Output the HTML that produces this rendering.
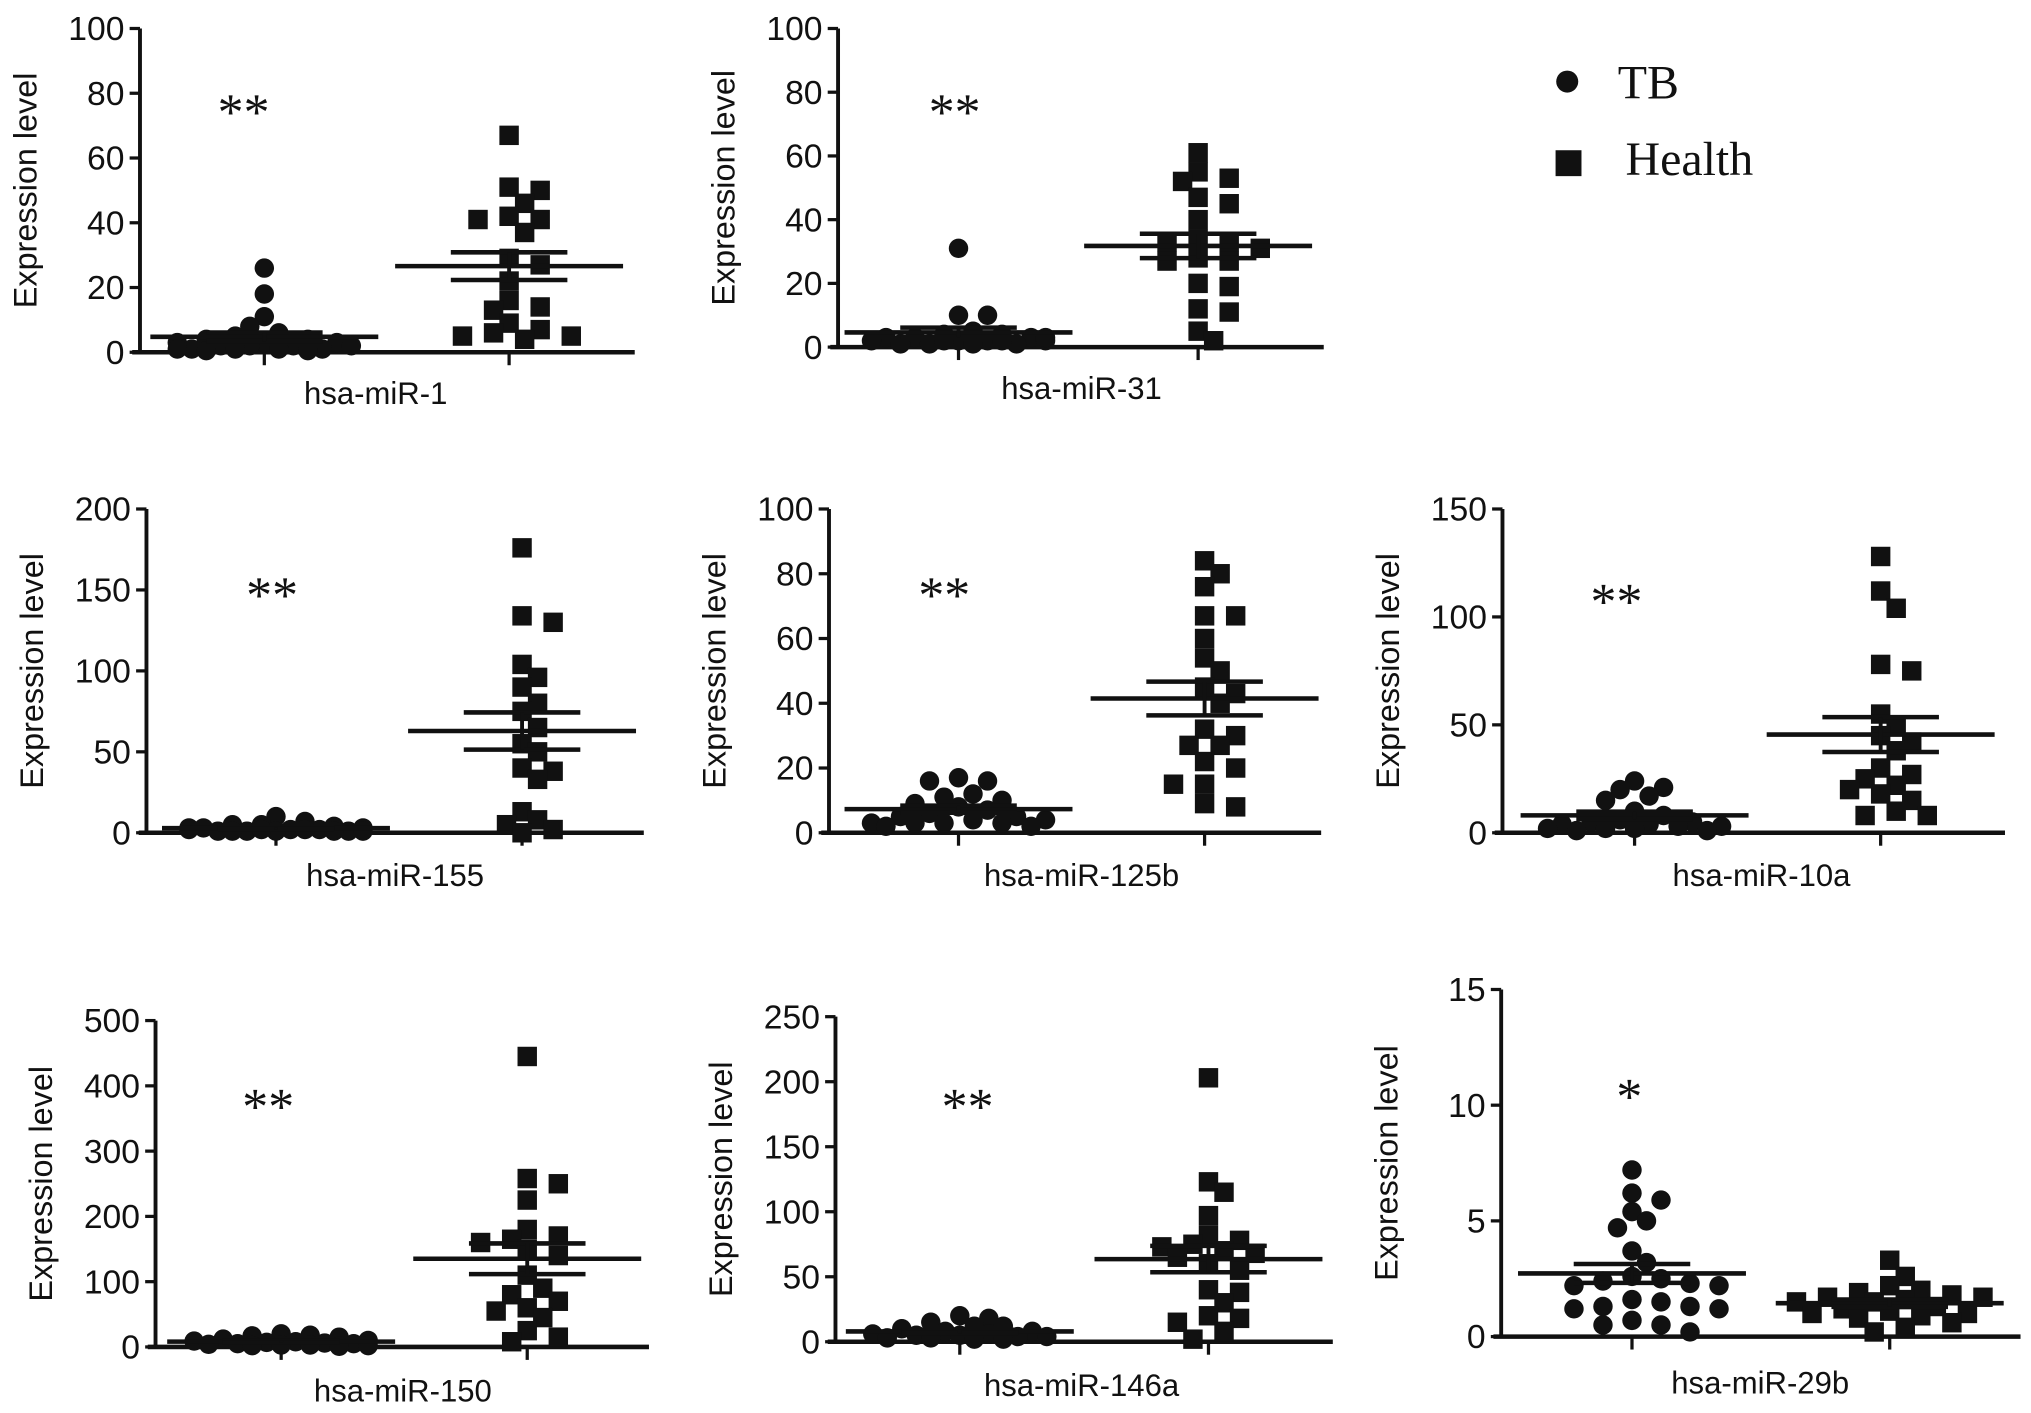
<!DOCTYPE html>
<html><head><meta charset="utf-8"><style>
html,body{margin:0;padding:0;background:#fff;}
svg{display:block;}
</style></head><body>
<svg id="fig" width="2031" height="1413" viewBox="0 0 1568 1091" xmlns="http://www.w3.org/2000/svg" font-family="Liberation Sans, Arial, sans-serif"></svg>
<script>
// ---- data per panel ----
const panelNames = ["hsa-miR-1","hsa-miR-31","hsa-miR-155","hsa-miR-125b","hsa-miR-10a","hsa-miR-150","hsa-miR-146a","hsa-miR-29b"];
const yMaxes = [100,100,200,100,150,500,250,15];
const tickSteps = [20,20,50,20,50,100,50,5];
const sigMarks = ["**","**","**","**","**","**","**","*"];
const tbMiR1 = [26,18,11,6,8,5,4,4,3,3,3,2,2,2,2,1,1,1,1,0.5,0.5,1];
const healthMiR1 = [67,51,50,46,42,41,41,37,29,27,22,16,14,13,9,7,6,5,5,4];
const tbMiR31 = [31,10,10,5,4,4,3,3,3,2,2,2,2,1,1,1,1,2,3,2];
const healthMiR31 = [61,55,53,52,47,45,40,34,33,33,31,28,27,27,20,19,12,11,5,2];
const tbMiR155 = [10,7,5,5,4,3,3,2,2,2,1,1,1,1,2,3,1,2,1,1];
const healthMiR155 = [176,134,130,104,96,90,80,75,65,55,50,40,38,33,13,8,5,2,0];
const tbMiR125b = [17,16,16,12,11,10,9,8,7,6,5,5,4,4,3,3,3,3,2,2];
const healthMiR125b = [84,80,76,67,67,60,54,50,45,43,40,32,30,27,27,22,20,15,15,9,8];
const tbMiR10a = [24,21,20,17,15,10,8,6,5,5,4,4,3,3,2,2,2,1,1];
const healthMiR10a = [128,112,104,78,75,55,50,45,42,38,30,27,25,22,20,18,15,10,8,8];
const tbMiR150 = [20,18,17,15,12,10,9,8,7,6,5,5,4,3,3,2,2,1];
const healthMiR150 = [445,258,250,225,180,170,165,160,150,140,110,90,80,70,60,55,45,25,15,8];
const tbMiR146a = [20,18,15,12,12,10,8,8,6,6,5,5,4,4,3,3,2,2];
const healthMiR146a = [203,123,115,97,82,78,75,73,70,68,65,60,55,40,38,30,20,18,15,8,2];
const tbMiR29b = [7.2,6.2,5.9,5.4,5.0,4.7,3.7,3.2,2.6,2.5,2.4,2.3,2.2,2.2,1.6,1.5,1.3,1.3,1.2,1.2,0.7,0.5,0.5,0.2];
const healthMiR29b = [3.3,2.6,2.2,2.0,1.9,1.8,1.7,1.7,1.6,1.5,1.5,1.3,1.2,1.1,1.0,1.0,0.9,0.8,0.6,0.4,0.2];
const tbSeries = [tbMiR1,tbMiR31,tbMiR155,tbMiR125b,tbMiR10a,tbMiR150,tbMiR146a,tbMiR29b];
const healthSeries = [healthMiR1,healthMiR31,healthMiR155,healthMiR125b,healthMiR10a,healthMiR150,healthMiR146a,healthMiR29b];

// ---- layout (not data) ----
const layout = [
 {ax:108,top:22,bot:272,g1:204,g2:393,end:490,lx:290,ly:312,sx:188,sy:100},
 {ax:647,top:22,bot:268,g1:740,g2:925,end:1022,lx:835,ly:308,sx:737,sy:100},
 {ax:113,top:393,bot:643,g1:213,g2:403,end:497,lx:305,ly:684,sx:210,sy:473},
 {ax:640,top:393,bot:643,g1:740,g2:930,end:1020,lx:835,ly:684,sx:729,sy:473},
 {ax:1160,top:393,bot:643,g1:1262,g2:1452,end:1548,lx:1360,ly:684,sx:1248,sy:478},
 {ax:120,top:788,bot:1040,g1:217,g2:407,end:501,lx:311,ly:1082,sx:207,sy:868},
 {ax:645,top:785,bot:1036,g1:741,g2:933,end:1029,lx:835,ly:1078,sx:747,sy:868},
 {ax:1159,top:764,bot:1032,g1:1260,g2:1459,end:1560,lx:1359,ly:1076,sx:1258,sy:860}
];
const NS="http://www.w3.org/2000/svg";
const fig=document.getElementById('fig');
function mk(tag,attrs,parent){const e=document.createElementNS(NS,tag);for(const k in attrs)e.setAttribute(k,attrs[k]);(parent||fig).appendChild(e);return e;}
function stats(a){const m=a.reduce((s,v)=>s+v,0)/a.length;const sd=Math.sqrt(a.reduce((s,v)=>s+(v-m)*(v-m),0)/(a.length-1));return [m,sd/Math.sqrt(a.length)];}
function swarm(vals,yfn,cx,size,maxOff){const placed=[];const out=[];
 vals.forEach(v=>{const y=yfn(v);let best=cx,bestScore=1e9;
  for(let k=0;k<=24;k++){const off=(k===0?0:(k%2?1:-1)*Math.ceil(k/2))*size*0.8;if(Math.abs(off)>maxOff)continue;const x=cx+off;
   let score=0;placed.forEach(p=>{const d=Math.hypot(p[0]-x,p[1]-y);if(d<size*0.9)score+=size-d;});
   if(score<bestScore-0.01){bestScore=score;best=x;}if(score===0)break;}
  placed.push([best,y]);out.push([best,y]);});return out;}

layout.forEach((L,i)=>{
 const g=mk('g',{});
 
 
 const yMax=yMaxes[i];
 const y=v=>L.bot-(v/yMax)*(L.bot-L.top);
 const ya=mk('line',{x1:L.ax,y1:L.top,x2:L.ax,y2:L.bot,stroke:'#111','stroke-width':3},g);
 
 const xa=mk('line',{x1:L.ax-6,y1:L.bot,x2:L.end,y2:L.bot,stroke:'#111','stroke-width':3.5},g);
 
 for(let t=0;t<=yMax+1e-9;t+=tickSteps[i]){
  mk('line',{x1:L.ax-8,y1:y(t),x2:L.ax,y2:y(t),stroke:'#111','stroke-width':2.5},g);
  const tx=mk('text',{x:L.ax-12,y:y(t)+9,'text-anchor':'end','font-size':26,fill:'#111'},g);
  tx.textContent=t;
  
 }
 [L.g1,L.g2].forEach(gx=>mk('line',{x1:gx,y1:L.bot,x2:gx,y2:L.bot+10,stroke:'#111','stroke-width':2.5},g));
 const yt=mk('text',{x:0,y:0,'text-anchor':'middle','font-size':25,fill:'#111',transform:`translate(${L.ax-80},${(L.top+L.bot)/2}) rotate(-90)`},g);
 yt.textContent='Expression level';
 
 const xl=mk('text',{x:L.lx,y:L.ly,'text-anchor':'middle','font-size':24,fill:'#111'},g);
 xl.textContent=panelNames[i];
 
 const st=mk('text',{x:L.sx,y:L.sy,'text-anchor':'middle','font-size':40,fill:'#111','font-family':'Liberation Serif, serif'},g);
 st.textContent=sigMarks[i];
 
 swarm(tbSeries[i],y,L.g1,14,78).forEach(([px,py])=>{
  const c=mk('circle',{cx:px,cy:py,r:7.5,fill:'#111'},g);
  
 });
 swarm(healthSeries[i],y,L.g2,15,72).forEach(([px,py])=>{
  const r=mk('rect',{x:px-7.5,y:py-7.5,width:15,height:15,fill:'#111'},g);
  
 });
 [[tbSeries[i],L.g1],[healthSeries[i],L.g2]].forEach(([arr,gx])=>{
  const [m,se]=stats(arr);
  const ml=mk('line',{x1:gx-88,y1:y(m),x2:gx+88,y2:y(m),stroke:'#111','stroke-width':3.5},g);
  
  mk('line',{x1:gx-45,y1:y(m+se),x2:gx+45,y2:y(m+se),stroke:'#111','stroke-width':3.5},g);
  mk('line',{x1:gx-45,y1:y(Math.max(0,m-se)),x2:gx+45,y2:y(Math.max(0,m-se)),stroke:'#111','stroke-width':3.5},g);
  mk('line',{x1:gx,y1:y(m+se),x2:gx,y2:y(Math.max(0,m-se)),stroke:'#111','stroke-width':3},g);
 });
});
const lg=mk('g',{});


mk('circle',{cx:1210,cy:63,r:8.5,fill:'#111'},lg);
const t1=mk('text',{x:1249,y:76,'font-size':37,fill:'#111','font-family':'Liberation Serif, serif'},lg);
t1.textContent='TB';

mk('rect',{x:1201,y:116,width:20,height:20,fill:'#111'},lg);
const t2=mk('text',{x:1255,y:135,'font-size':37,fill:'#111','font-family':'Liberation Serif, serif'},lg);
t2.textContent='Health';

</script>
</body></html>
